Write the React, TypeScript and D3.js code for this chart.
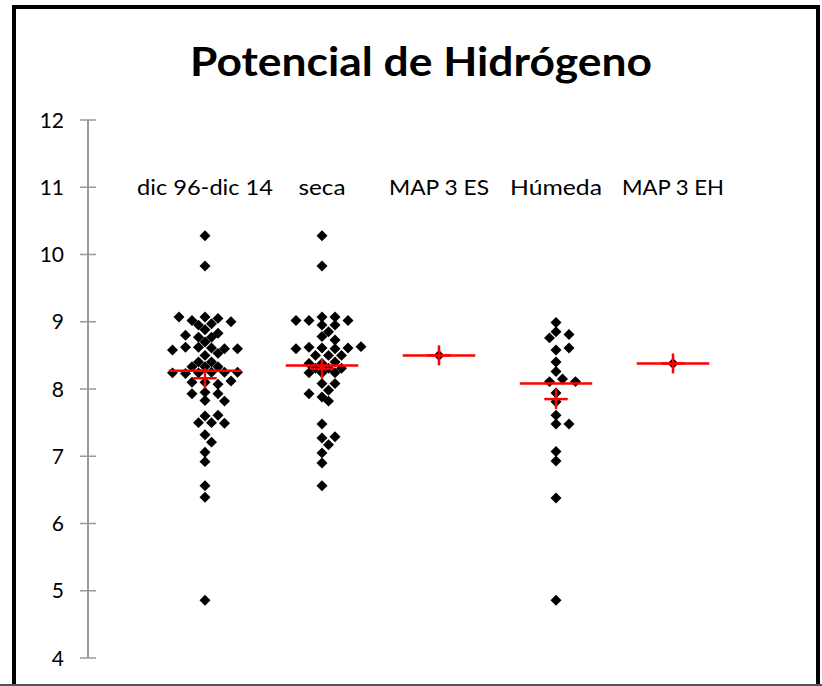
import React from "react";
import * as d3 from "d3";

const categories = ["dic 96-dic 14", "seca", "MAP 3 ES", "Húmeda", "MAP 3 EH"];
const yTicks = [4, 5, 6, 7, 8, 9, 10, 11, 12];

const serieDic = [
  10.28, 9.83,
  9.07, 9.05, 9.02, 9.0, 9.07, 8.97, 8.95,
  8.88, 8.83, 8.77, 8.77, 8.8,
  8.7, 8.61, 8.62, 8.6, 8.62, 8.6, 8.58,
  8.5, 8.53, 8.4, 8.33, 8.33, 8.33, 8.4,
  8.25, 8.24, 8.25, 8.23, 8.25, 8.24,
  8.1, 8.07, 8.1, 8.12,
  7.95, 7.93, 7.93, 7.83, 7.82,
  7.6, 7.61, 7.5, 7.5, 7.49,
  7.32, 7.21, 7.06, 6.92,
  6.56, 6.39, 4.86,
];
const serieSeca = [
  10.28, 9.83, 9.07, 9.07, 9.02, 9.02, 9.02, 8.95, 8.95, 8.85, 8.78, 8.73,
  8.61, 8.6, 8.62, 8.61, 8.6, 8.63, 8.5, 8.5, 8.5, 8.38, 8.4, 8.38, 8.31,
  8.31, 8.31, 8.24, 8.24, 8.24, 8.08, 8.08, 7.98, 7.88, 7.93, 7.82, 7.48,
  7.27, 7.29, 7.17, 7.05, 6.9, 6.56,
];
const serieMapES = [8.5];
const serieHumeda = [
  8.99, 8.85, 8.81, 8.76, 8.58, 8.61, 8.4, 8.26, 8.15, 8.11, 8.11, 7.94,
  7.81, 7.61, 7.48, 7.48, 7.07, 6.93, 6.38, 4.86,
];
const serieMapEH = [8.38];

const series = [serieDic, serieSeca, serieMapES, serieHumeda, serieMapEH];
const meanLine = [8.27, 8.35, 8.5, 8.08, 8.38];
const medianCross = [8.16, 8.3, 8.5, 7.85, 8.38];

const W = 822;
const H = 686;
const labelWidths = [136, 47, 100, 92, 102];

function beeswarm(values: number[], cx: number, y: (v: number) => number, dist: number, step: number) {
  const placed: { x: number; y: number }[] = [];
  const out: { x: number; y: number }[] = new Array(values.length);
  values.forEach((v, i) => {
    const py = y(v);
    for (let k = 0; k < 40; k++) {
      const off = k === 0 ? 0 : (k % 2 === 1 ? 1 : -1) * Math.ceil(k / 2) * step;
      const px = cx + off;
      const ok = placed.every((p) => Math.hypot(p.x - px, p.y - py) >= dist);
      if (ok) {
        placed.push({ x: px, y: py });
        out[i] = { x: px, y: py };
        return;
      }
    }
    out[i] = { x: cx, y: py };
  });
  return out;
}

export default function App() {
  const y = d3.scaleLinear().domain([4, 12]).range([658, 120]);
  const x = d3.scaleLinear().domain([0, 6]).range([88, 790]);
  const diamond = d3.symbol().type(d3.symbolSquare).size(60)()!;
  const font = "Lato, 'Open Sans', sans-serif";

  return (
    <svg
      width={W}
      height={H}
      style={{ position: "absolute", left: 0, top: 0, background: "#fff" }}
    >
      <rect x={0} y={0} width={W} height={H} fill="#fff" />
      <rect x={14} y={7} width={804} height={700} fill="#fff" stroke="#000" strokeWidth={4} />
      <line x1={0} x2={W} y1={685} y2={685} stroke="#555" strokeWidth={2} />

      <text
        x={421}
        y={76}
        textAnchor="middle"
        fontFamily={font}
        fontWeight="bold"
        fontSize={41}
        fill="#000"
        textLength={462}
        lengthAdjust="spacingAndGlyphs"
      >
        Potencial de Hidrógeno
      </text>

      {/* y axis */}
      <line x1={x(0)} x2={x(0)} y1={y(4)} y2={y(12)} stroke="#9a9a9a" strokeWidth={2} />
      {yTicks.map((t) => (
        <g key={t}>
          <line x1={x(0) - 8} x2={x(0) + 8} y1={y(t)} y2={y(t)} stroke="#9a9a9a" strokeWidth={1.5} />
          <text
            x={64}
            y={y(t)}
            dy="0.36em"
            textAnchor="end"
            fontFamily={font}
            fontSize={21}
            fill="#000"
          >
            {t}
          </text>
        </g>
      ))}

      {/* category labels */}
      {categories.map((c, i) => (
        <text
          key={c}
          x={x(i + 1)}
          y={y(11)}
          dy="0.36em"
          textAnchor="middle"
          fontFamily={font}
          fontSize={21}
          fill="#000"
          textLength={labelWidths[i]}
          lengthAdjust="spacingAndGlyphs"
        >
          {c}
        </text>
      ))}

      {/* points */}
      {series.map((s, i) => {
        const pts = beeswarm(s, x(i + 1), y, 7.5, 6.5);
        return (
          <g key={i}>
            {pts.map((p, j) => (
              <path
                key={j}
                d={diamond}
                transform={`translate(${p.x},${p.y}) rotate(45)`}
                fill="#000"
              />
            ))}
          </g>
        );
      })}

      {/* mean lines and median crosses */}
      {meanLine.map((m, i) => (
        <g key={i}>
          <line
            x1={x(i + 1 - 0.31)}
            x2={x(i + 1 + 0.31)}
            y1={y(m)}
            y2={y(m)}
            stroke="#ff0000"
            strokeWidth={2.5}
          />
          <line
            x1={x(i + 1 - 0.1)}
            x2={x(i + 1 + 0.1)}
            y1={y(medianCross[i])}
            y2={y(medianCross[i])}
            stroke="#ff0000"
            strokeWidth={2.5}
          />
          <line
            x1={x(i + 1)}
            x2={x(i + 1)}
            y1={y(medianCross[i]) - 10}
            y2={y(medianCross[i]) + 10}
            stroke="#ff0000"
            strokeWidth={2.5}
          />
        </g>
      ))}
    </svg>
  );
}
